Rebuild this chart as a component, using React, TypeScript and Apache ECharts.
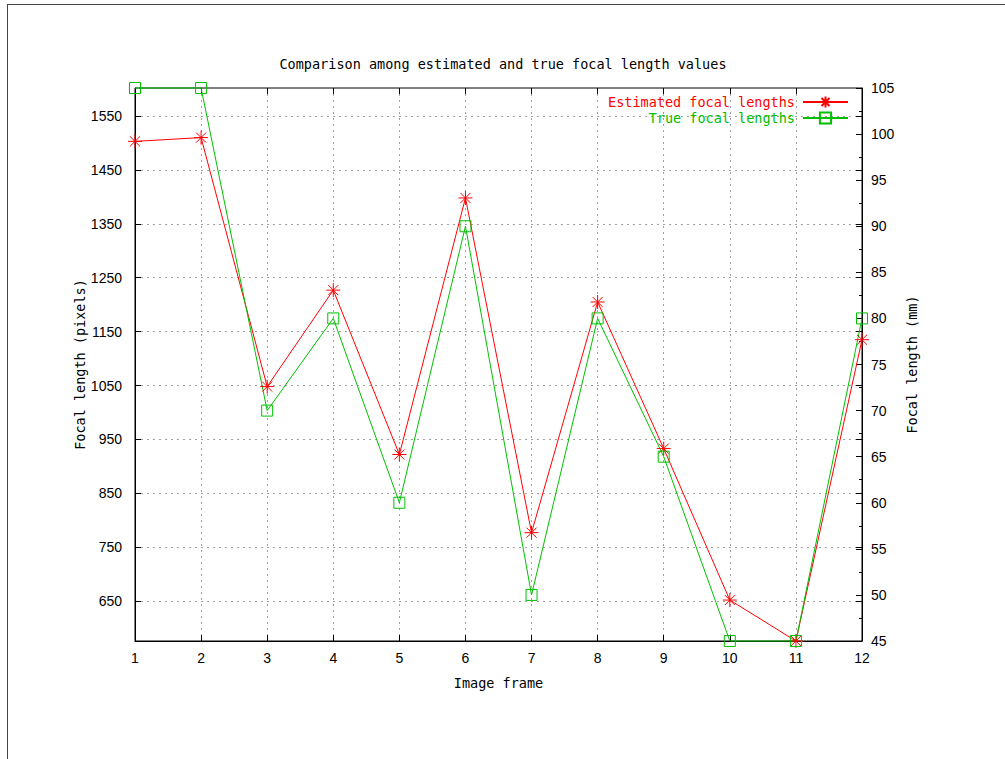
import React, { useEffect, useRef } from "react";
import * as echarts from "echarts";

const frames = [1, 2, 3, 4, 5, 6, 7, 8, 9, 10, 11, 12];
const estimatedPx = [1503, 1510, 1048, 1227, 922, 1398, 777, 1205, 933, 652, 576, 1135];
const trueMm = [105, 105, 70, 80, 60, 90, 50, 80, 65, 45, 45, 80];
const leftTicks = [650, 750, 850, 950, 1050, 1150, 1250, 1350, 1450, 1550];

const MONO = "DejaVu Sans Mono, Liberation Mono, monospace";
const SANS = "Liberation Sans, Arial, sans-serif";
const RED = "#ff0000";
const GREEN = "#00c000";
const STAR = "path://M0,7L14,7M7,0L7,14M2,2L12,12M12,2L2,12";
const SQUARE = "path://M0,0L10,0L10,10L0,10Z";

export default function App() {
  const ref = useRef<HTMLDivElement>(null);
  useEffect(() => {
    if (!ref.current) return;
    const chart = echarts.init(ref.current, null, { renderer: "svg" });
    const gridLine = { type: [2, 4], color: "#a0a0a0", width: 1 };
    const plain = (v: number) => String(v);
    chart.setOption({
      animation: false,
      backgroundColor: "#ffffff",
      title: {
        text: "Comparison among estimated and true focal length values",
        left: 498,
        top: 52,
        textAlign: "center",
        textStyle: { fontFamily: MONO, fontSize: 13.5, fontWeight: "normal", color: "#000" },
      },
      legend: {
        orient: "vertical",
        right: 156,
        top: 95,
        padding: 0,
        align: "right",
        itemWidth: 45,
        itemHeight: 14,
        itemGap: 2,
        textStyle: { fontFamily: MONO, fontSize: 13.5, padding: [0, 3, 0, 0] },
        data: [
          { name: "Estimated focal lengths", textStyle: { color: RED } },
          { name: "True focal lengths", textStyle: { color: GREEN } },
        ],
      },
      grid: {
        left: 135,
        right: 143,
        top: 88,
        bottom: 118,
        show: true,
        borderColor: "#000",
        borderWidth: 1,
        backgroundColor: "transparent",
      },
      xAxis: [
        {
          type: "value",
          min: 1,
          max: 12,
          interval: 1,
          name: "Image frame",
          nameLocation: "middle",
          nameGap: 35,
          nameMoveOverlap: false,
          nameTextStyle: { fontFamily: MONO, fontSize: 13.5, color: "#000" },
          axisLine: { show: true, lineStyle: { color: "#000" } },
          axisTick: { show: true, inside: true, length: 6, lineStyle: { color: "#000" } },
          axisLabel: { fontFamily: SANS, fontSize: 14, color: "#000", margin: 10, formatter: plain },
          splitLine: { show: true, lineStyle: gridLine },
        },
        {
          type: "value",
          position: "top",
          min: 1,
          max: 12,
          interval: 1,
          axisLine: { show: false },
          axisTick: { show: true, inside: true, length: 6, lineStyle: { color: "#000" } },
          axisLabel: { show: false },
          splitLine: { show: false },
        },
      ],
      yAxis: [
        {
          type: "value",
          position: "left",
          min: 576,
          max: 1602,
          name: "Focal length (pixels)",
          nameLocation: "middle",
          nameGap: 48,
          nameMoveOverlap: false,
          nameRotate: 90,
          nameTextStyle: { fontFamily: MONO, fontSize: 13.5, color: "#000" },
          axisLine: { show: true, lineStyle: { color: "#000" } },
          axisTick: { show: true, inside: true, length: 6, customValues: leftTicks, lineStyle: { color: "#000" } },
          axisLabel: { fontFamily: SANS, fontSize: 14, color: "#000", margin: 13, customValues: leftTicks, formatter: plain },
          splitLine: { show: true, lineStyle: gridLine },
        },
        {
          type: "value",
          position: "right",
          min: 45,
          max: 105,
          interval: 5,
          name: "Focal length (mm)",
          nameLocation: "middle",
          nameGap: 43,
          nameMoveOverlap: false,
          nameRotate: 90,
          nameTextStyle: { fontFamily: MONO, fontSize: 13.5, color: "#000" },
          axisLine: { show: true, lineStyle: { color: "#000" } },
          axisTick: { show: true, inside: true, length: 6, lineStyle: { color: "#000" } },
          minorTick: { show: true, splitNumber: 2, length: 3, lineStyle: { color: "#000" } },
          axisLabel: { fontFamily: SANS, fontSize: 14, color: "#000", margin: 9, formatter: plain },
          splitLine: { show: false },
        },
        {
          type: "value",
          position: "right",
          min: 576,
          max: 1602,
          axisLine: { show: false },
          axisTick: { show: true, inside: true, length: 6, customValues: leftTicks, lineStyle: { color: "#000" } },
          axisLabel: { show: false, customValues: leftTicks },
          splitLine: { show: false },
        },
      ],
      series: [
        {
          name: "Estimated focal lengths",
          type: "line",
          xAxisIndex: 0,
          yAxisIndex: 0,
          color: RED,
          symbol: STAR,
          symbolSize: 14,
          clip: false,
          lineStyle: { color: RED, width: 1 },
          itemStyle: { color: RED, borderColor: RED, borderWidth: 1 },
          data: frames.map((f, i) => [f, estimatedPx[i]]),
        },
        {
          name: "True focal lengths",
          type: "line",
          xAxisIndex: 0,
          yAxisIndex: 1,
          color: GREEN,
          symbol: SQUARE,
          symbolSize: 11,
          clip: false,
          lineStyle: { color: GREEN, width: 1 },
          itemStyle: { color: "transparent", borderColor: GREEN, borderWidth: 1 },
          data: frames.map((f, i) => [f, trueMm[i]]),
        },
      ],
      graphic: [
        { type: "line", shape: { x1: 7, y1: 4.5, x2: 1005, y2: 4.5 }, style: { stroke: "#444", lineWidth: 1 }, silent: true },
        { type: "line", shape: { x1: 7.5, y1: 4, x2: 7.5, y2: 759 }, style: { stroke: "#444", lineWidth: 1 }, silent: true },
      ],
    });
    return () => chart.dispose();
  }, []);
  return (
    <div
      ref={ref}
      style={{ position: "fixed", left: 0, top: 0, width: 1005, height: 759 }}
    />
  );
}
